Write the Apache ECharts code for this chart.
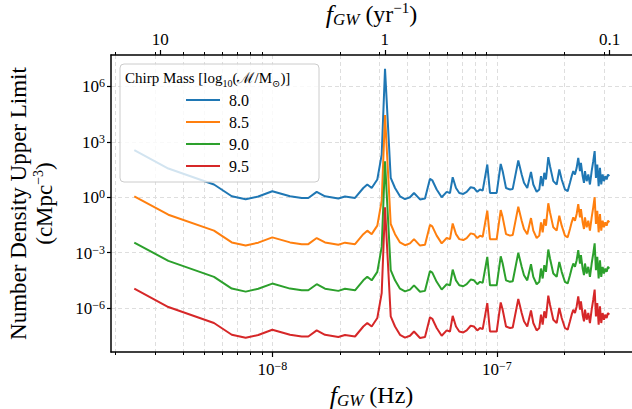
<!DOCTYPE html>
<html><head><meta charset="utf-8">
<script src="https://cdn.jsdelivr.net/npm/echarts@6/dist/echarts.min.js"></script>
<style>html,body{margin:0;padding:0;background:#fff}#c{width:632px;height:409px}</style>
</head><body><div id="c"></div>
<script>
// Frequencies (Hz) of the plotted points
const freqHz = [2.43e-9, 3.445e-9, 5.50e-9, 6.60e-9, 7.61e-9, 8.66e-9, 1.0e-8, 1.199e-8, 1.352e-8, 1.446e-8,
  1.576e-8, 1.716e-8, 1.967e-8, 2.106e-8, 2.334e-8, 2.541e-8, 2.647e-8, 2.769e-8, 2.933e-8, 3.068e-8,
  3.174e-8, 3.365e-8, 3.517e-8, 3.701e-8, 3.896e-8, 4.101e-8, 4.272e-8, 4.543e-8, 4.782e-8, 5.032e-8,
  5.153e-8, 5.390e-8, 5.674e-8, 5.972e-8, 6.178e-8, 6.351e-8, 6.569e-8, 6.795e-8, 7.079e-8, 7.331e-8,
  7.638e-8, 7.900e-8, 8.172e-8, 8.401e-8, 8.637e-8, 9.054e-8, 9.307e-8, 9.970e-8, 1.039e-7, 1.060e-7,
  1.097e-7, 1.143e-7, 1.175e-7, 1.244e-7, 1.288e-7, 1.319e-7, 1.364e-7, 1.417e-7, 1.451e-7, 1.502e-7,
  1.543e-7, 1.570e-7, 1.597e-7, 1.624e-7, 1.652e-7, 1.692e-7, 1.722e-7, 1.781e-7, 1.844e-7, 1.894e-7,
  1.941e-7, 2.007e-7, 2.064e-7, 2.113e-7, 2.150e-7, 2.186e-7, 2.224e-7, 2.263e-7, 2.300e-7, 2.341e-7,
  2.364e-7, 2.406e-7, 2.439e-7, 2.464e-7, 2.507e-7, 2.549e-7, 2.593e-7, 2.639e-7, 2.682e-7, 2.721e-7,
  2.757e-7, 2.795e-7, 2.835e-7, 2.873e-7, 2.911e-7, 2.953e-7, 2.993e-7, 3.034e-7, 3.077e-7, 3.119e-7,
  3.161e-7];

const seriesNames = ['8.0', '8.5', '9.0', '9.5'];
const seriesColors = ['#1f77b4', '#ff7f0e', '#2ca02c', '#d62728'];

// Number density upper limit (cMpc^-3), chirp mass log10 = 8.0
const limit80 = [3.51e2, 3.58e1, 4.90e0, 1.13e0, 7.76e-1, 1.10e0, 2.11e0, 1.13e0, 9.12e-1, 9.12e-1,
  1.95e0, 1.12e0, 8.51e-1, 1.10e0, 9.12e-1, 3.16e0, 4.90e0, 3.16e0, 9.12e0, 2.04e2,
  8.91e6, 1.12e1, 3.16e0, 1.12e0, 7.94e-1, 1.0e0, 1.70e0, 7.59e-1, 8.51e-1, 1.0e1,
  8.32e0, 2.63e0, 1.0e0, 1.95e0, 1.70e0, 1.20e1, 3.16e0, 1.70e0, 1.51e0, 1.95e0,
  3.47e0, 3.16e0, 1.95e0, 2.63e0, 2.29e0, 5.89e1, 1.70e0, 1.70e0, 6.31e1, 2.57e1,
  3.16e0, 2.63e0, 2.82e0, 9.77e1, 1.70e1, 6.03e0, 3.16e0, 2.34e1, 4.90e0, 1.95e0,
  2.63e0, 1.38e1, 3.98e0, 2.09e1, 9.12e0, 1.48e2, 4.79e1, 7.41e0, 4.90e0, 3.16e1,
  9.12e0, 2.63e0, 2.14e0, 6.03e0, 1.38e1, 2.57e1, 1.70e1, 3.89e1, 1.35e2, 2.57e1,
  7.24e1, 1.38e1, 6.03e0, 2.57e1, 7.41e0, 1.70e1, 4.90e0, 2.57e1, 8.91e1, 3.16e2,
  1.12e1, 5.89e1, 3.98e0, 3.89e1, 4.90e0, 1.70e1, 7.41e0, 1.38e1, 9.12e0, 1.70e1,
  1.38e1];

// chirp mass log10 = 8.5
const limit85 = [1.11e0, 1.13e-1, 1.55e-2, 3.58e-3, 2.45e-3, 3.47e-3, 6.68e-3, 3.58e-3, 2.88e-3, 2.88e-3,
  6.17e-3, 3.55e-3, 2.69e-3, 3.47e-3, 2.88e-3, 1.0e-2, 1.55e-2, 1.0e-2, 2.88e-2, 6.46e-1,
  2.82e4, 3.55e-2, 1.0e-2, 3.55e-3, 2.51e-3, 3.16e-3, 5.37e-3, 2.40e-3, 2.69e-3, 3.16e-2,
  2.63e-2, 8.32e-3, 3.16e-3, 6.17e-3, 5.37e-3, 3.80e-2, 1.0e-2, 5.37e-3, 4.79e-3, 6.17e-3,
  1.10e-2, 1.0e-2, 6.17e-3, 8.32e-3, 7.24e-3, 1.86e-1, 5.37e-3, 5.37e-3, 2.0e-1, 8.13e-2,
  1.0e-2, 8.32e-3, 8.91e-3, 3.09e-1, 5.37e-2, 1.91e-2, 1.0e-2, 7.41e-2, 1.55e-2, 6.17e-3,
  8.32e-3, 4.37e-2, 1.26e-2, 6.61e-2, 2.88e-2, 4.68e-1, 1.51e-1, 2.34e-2, 1.55e-2, 1.0e-1,
  2.88e-2, 8.32e-3, 6.76e-3, 1.91e-2, 4.37e-2, 8.13e-2, 5.37e-2, 1.23e-1, 4.27e-1, 8.13e-2,
  2.29e-1, 4.37e-2, 1.91e-2, 8.13e-2, 2.34e-2, 5.37e-2, 1.55e-2, 8.13e-2, 2.82e-1, 1.0e0,
  3.55e-2, 1.86e-1, 1.26e-2, 1.23e-1, 1.55e-2, 5.37e-2, 2.34e-2, 4.37e-2, 2.88e-2, 5.37e-2,
  4.37e-2];

// chirp mass log10 = 9.0
const limit90 = [3.51e-3, 3.58e-4, 4.90e-5, 1.13e-5, 7.76e-6, 1.10e-5, 2.11e-5, 1.13e-5, 9.12e-6, 9.12e-6,
  1.95e-5, 1.12e-5, 8.51e-6, 1.10e-5, 9.12e-6, 3.16e-5, 4.90e-5, 3.16e-5, 9.12e-5, 2.04e-3,
  8.91e1, 1.12e-4, 3.16e-5, 1.12e-5, 7.94e-6, 1.0e-5, 1.70e-5, 7.59e-6, 8.51e-6, 1.0e-4,
  8.32e-5, 2.63e-5, 1.0e-5, 1.95e-5, 1.70e-5, 1.20e-4, 3.16e-5, 1.70e-5, 1.51e-5, 1.95e-5,
  3.47e-5, 3.16e-5, 1.95e-5, 2.63e-5, 2.29e-5, 5.89e-4, 1.70e-5, 1.70e-5, 6.31e-4, 2.57e-4,
  3.16e-5, 2.63e-5, 2.82e-5, 9.77e-4, 1.70e-4, 6.03e-5, 3.16e-5, 2.34e-4, 4.90e-5, 1.95e-5,
  2.63e-5, 1.38e-4, 3.98e-5, 2.09e-4, 9.12e-5, 1.48e-3, 4.79e-4, 7.41e-5, 4.90e-5, 3.16e-4,
  9.12e-5, 2.63e-5, 2.14e-5, 6.03e-5, 1.38e-4, 2.57e-4, 1.70e-4, 3.89e-4, 1.35e-3, 2.57e-4,
  7.24e-4, 1.38e-4, 6.03e-5, 2.57e-4, 7.41e-5, 1.70e-4, 4.90e-5, 2.57e-4, 8.91e-4, 3.16e-3,
  1.12e-4, 5.89e-4, 3.98e-5, 3.89e-4, 4.90e-5, 1.70e-4, 7.41e-5, 1.38e-4, 9.12e-5, 1.70e-4,
  1.38e-4];

// chirp mass log10 = 9.5
const limit95 = [1.11e-5, 1.13e-6, 1.55e-7, 3.58e-8, 2.45e-8, 3.47e-8, 6.68e-8, 3.58e-8, 2.88e-8, 2.88e-8,
  6.17e-8, 3.55e-8, 2.69e-8, 3.47e-8, 2.88e-8, 1.0e-7, 1.55e-7, 1.0e-7, 2.88e-7, 6.46e-6,
  2.82e-1, 3.55e-7, 1.0e-7, 3.55e-8, 2.51e-8, 3.16e-8, 5.37e-8, 2.40e-8, 2.69e-8, 3.16e-7,
  2.63e-7, 8.32e-8, 3.16e-8, 6.17e-8, 5.37e-8, 3.80e-7, 1.0e-7, 5.37e-8, 4.79e-8, 6.17e-8,
  1.10e-7, 1.0e-7, 6.17e-8, 8.32e-8, 7.24e-8, 1.86e-6, 5.37e-8, 5.37e-8, 2.0e-6, 8.13e-7,
  1.0e-7, 8.32e-8, 8.91e-8, 3.09e-6, 5.37e-7, 1.91e-7, 1.0e-7, 7.41e-7, 1.55e-7, 6.17e-8,
  8.32e-8, 4.37e-7, 1.26e-7, 6.61e-7, 2.88e-7, 4.68e-6, 1.51e-6, 2.34e-7, 1.55e-7, 1.0e-6,
  2.88e-7, 8.32e-8, 6.76e-8, 1.91e-7, 4.37e-7, 8.13e-7, 5.37e-7, 1.23e-6, 4.27e-6, 8.13e-7,
  2.29e-6, 4.37e-7, 1.91e-7, 8.13e-7, 2.34e-7, 5.37e-7, 1.55e-7, 8.13e-7, 2.82e-6, 1.0e-5,
  3.55e-7, 1.86e-6, 1.26e-7, 1.23e-6, 1.55e-7, 5.37e-7, 2.34e-7, 4.37e-7, 2.88e-7, 5.37e-7,
  4.37e-7];

// Axis ticks
const xMajorTicks = [1e-8, 1e-7];
const xMinorTicks = [2e-9, 3e-9, 4e-9, 5e-9, 6e-9, 7e-9, 8e-9, 9e-9,
  2e-8, 3e-8, 4e-8, 5e-8, 6e-8, 7e-8, 8e-8, 9e-8, 2e-7, 3e-7];
const topTickHz = [3.169e-9, 3.169e-8, 3.169e-7];
const topTickLabels = ['10', '1', '0.1'];
const yTicks = [1e-6, 1e-3, 1, 1e3, 1e6];

const X_MIN = 1.914e-9, X_MAX = 3.99e-7;
const Y_MIN = 4.17e-9, Y_MAX = 5.01e7;

const SERIF = "'Liberation Serif', 'DejaVu Serif', serif";
const richPow = {
  b: { fontSize: 17, fontFamily: SERIF, color: '#000', lineHeight: 18, verticalAlign: 'bottom' },
  s: { fontSize: 12, fontFamily: SERIF, color: '#000', lineHeight: 12, verticalAlign: 'top' }
};
function pow10Label(v) {
  const e = Math.round(Math.log10(v));
  return '{b|10}{s|' + String(e).replace('-', '\u2212') + '}';
}
const gridLine = { show: true, lineStyle: { color: '#dedede', width: 1, type: [4, 3] } };
const axisLineStyle = { show: true, lineStyle: { color: '#000', width: 1.5 } };
const nameRich = {
  i: { fontSize: 26, fontFamily: SERIF, fontStyle: 'italic', color: '#000', lineHeight: 28 },
  g: { fontSize: 17, fontFamily: SERIF, fontStyle: 'italic', color: '#000', lineHeight: 14, verticalAlign: 'bottom' },
  s: { fontSize: 15, fontFamily: SERIF, color: '#000', lineHeight: 13, verticalAlign: 'top' }
};

const series = [limit80, limit85, limit90, limit95].map((arr, i) => ({
  name: seriesNames[i],
  type: 'line',
  symbol: 'none',
  showSymbol: false,
  xAxisIndex: 0, yAxisIndex: 0,
  lineStyle: { width: 2, color: seriesColors[i] },
  itemStyle: { color: seriesColors[i] },
  data: freqHz.map((f, k) => [f, arr[k]]),
  z: 2
}));

const chart = echarts.init(document.getElementById('c'), null, { renderer: 'svg' });
chart.setOption({
  animation: false,
  backgroundColor: '#fff',
  grid: { left: 111, right: 0, top: 55, bottom: 57, containLabel: false, outerBoundsMode: 'none' },
  title: {
    text: 'Chirp Mass [log{sub|10}(\u2133/M{sub|\u2299})]',
    left: 125, top: 68, padding: 0,
    textStyle: {
      fontSize: 15, fontWeight: 'normal', fontFamily: SERIF, color: '#000', lineHeight: 20,
      rich: { sub: { fontSize: 10, fontFamily: SERIF, color: '#000', lineHeight: 10, verticalAlign: 'bottom' } }
    },
    z: 12
  },
  graphic: [{
    type: 'rect', z: 8,
    shape: { x: 120, y: 64, width: 199, height: 118, r: 4 },
    style: { fill: 'rgba(255,255,255,0.8)', stroke: '#cccccc', lineWidth: 1 }
  }],
  legend: {
    data: seriesNames,
    orient: 'vertical', left: 186, top: 91,
    icon: 'rect', itemWidth: 34, itemHeight: 2, itemGap: 4,
    padding: 0,
    textStyle: { fontSize: 16, fontFamily: SERIF, color: '#000', lineHeight: 18, padding: [0, 0, 0, 4] },
    z: 12
  },
  xAxis: [
    {
      type: 'log', logBase: 10, position: 'bottom', min: X_MIN, max: X_MAX,
      axisLine: axisLineStyle,
      axisTick: { show: true, inside: false, length: 5, customValues: xMajorTicks, lineStyle: { color: '#000', width: 1.2 } },
      axisLabel: { show: true, customValues: xMajorTicks, margin: 8, formatter: pow10Label, rich: richPow },
      splitLine: gridLine,
      name: '{i|f}{g|GW} (Hz)', nameLocation: 'middle', nameGap: 29, nameMoveOverlap: false,
      nameTextStyle: { fontSize: 24, fontFamily: SERIF, color: '#000', lineHeight: 28, rich: nameRich }
    },
    {
      type: 'log', logBase: 10, position: 'bottom', min: X_MIN, max: X_MAX,
      axisLine: { show: false },
      axisTick: { show: true, inside: false, length: 3, customValues: xMinorTicks, lineStyle: { color: '#000', width: 1 } },
      axisLabel: { show: false, customValues: xMinorTicks },
      splitLine: gridLine
    },
    {
      type: 'log', logBase: 10, position: 'top', min: X_MIN, max: X_MAX,
      axisLine: axisLineStyle,
      axisTick: { show: true, inside: false, length: 5, customValues: topTickHz, lineStyle: { color: '#000', width: 1.2 } },
      axisLabel: {
        show: true, customValues: topTickHz, margin: 7,
        fontSize: 17, fontFamily: SERIF, color: '#000',
        formatter: function (v) {
          let best = 0;
          topTickHz.forEach((t, i) => { if (Math.abs(Math.log10(t) - Math.log10(v)) < Math.abs(Math.log10(topTickHz[best]) - Math.log10(v))) best = i; });
          return topTickLabels[best];
        }
      },
      splitLine: { show: false },
      name: '{i|f}{g|GW} (yr{s|\u22121})', nameLocation: 'middle', nameGap: 27, nameMoveOverlap: false,
      nameTextStyle: { fontSize: 24, fontFamily: SERIF, color: '#000', lineHeight: 28, rich: nameRich }
    },
    {
      type: 'log', logBase: 10, position: 'top', min: X_MIN, max: X_MAX,
      axisLine: { show: false },
      axisTick: { show: true, inside: false, length: 3, customValues: xMinorTicks, lineStyle: { color: '#000', width: 1 } },
      axisLabel: { show: false, customValues: xMinorTicks },
      splitLine: { show: false }
    }
  ],
  yAxis: [{
    type: 'log', logBase: 10, min: Y_MIN, max: Y_MAX,
    axisLine: axisLineStyle,
    axisTick: { show: true, inside: false, length: 4, customValues: yTicks, lineStyle: { color: '#000', width: 1.2 } },
    axisLabel: { show: true, customValues: yTicks, margin: 6, formatter: pow10Label, rich: richPow },
    splitLine: gridLine,
    name: 'Number Density Upper Limit\n(cMpc{s|\u22123})', nameLocation: 'middle', nameGap: 54, nameRotate: 90, nameMoveOverlap: false,
    nameTextStyle: {
      fontSize: 23, fontFamily: SERIF, color: '#000', lineHeight: 26, align: 'center',
      rich: {
        s: { fontSize: 14, fontFamily: SERIF, color: '#000', lineHeight: 12, verticalAlign: 'top' }
      }
    }
  }],
  series: series
});
</script>
</body></html>
